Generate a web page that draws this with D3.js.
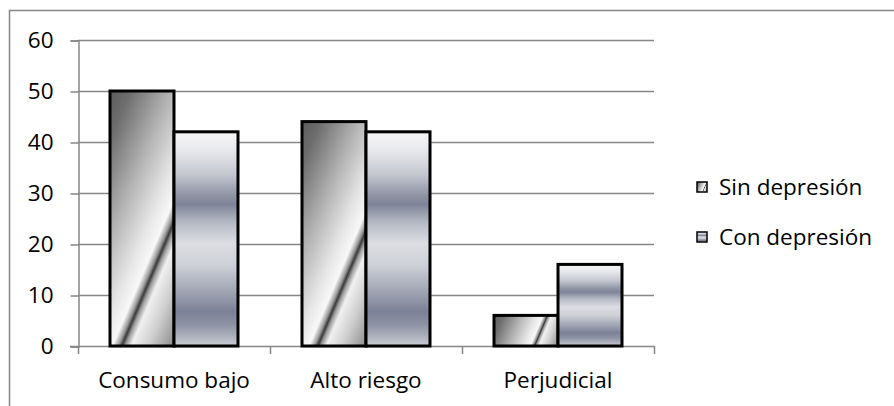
<!DOCTYPE html>
<html>
<head>
<meta charset="utf-8">
<script src="https://cdn.jsdelivr.net/npm/d3@7/dist/d3.min.js"></script>
<style>
  html, body { margin: 0; padding: 0; background: #fff; }
  svg { display: block; }
  text { font-family: "Open Sans", Lato, sans-serif; fill: #000; }
</style>
</head>
<body>
<svg id="chart" width="894" height="406"></svg>
<script>
// Categories, series and values
const categories = ["Consumo bajo", "Alto riesgo", "Perjudicial"];
const series = ["Sin depresión", "Con depresión"];
const sinDepresion = [50, 44, 6];
const conDepresion = [42, 42, 16];
const yTicks = [0, 10, 20, 30, 40, 50, 60];

const W = 894, H = 406;
const plot = { left: 78, right: 654, top: 40, bottom: 346 };
const fontSize = 22.5;
const fontFamily = "'Open Sans', Lato, sans-serif";

const svg = d3.select("#chart");
const defs = svg.append("defs");

// Outer chart frame
svg.append("rect")
  .attr("x", 9.5).attr("y", 10.5)
  .attr("width", W).attr("height", H)
  .attr("fill", "none").attr("stroke", "#868686").attr("stroke-width", 1.5);

const x0 = d3.scaleBand().domain(categories).range([plot.left, plot.right]).padding(0);
const x1 = d3.scaleBand().domain(series).range([0, x0.bandwidth()])
  .paddingInner(0).paddingOuter(0.5);
const y = d3.scaleLinear().domain([0, 60]).range([plot.bottom, plot.top]);

// Gridlines
svg.append("g").selectAll("line").data(yTicks.filter(d => d > 0)).join("line")
  .attr("x1", plot.left).attr("x2", plot.right)
  .attr("y1", d => y(d) + 0.5).attr("y2", d => y(d) + 0.5)
  .attr("stroke", "#868686").attr("stroke-width", 1.5);

// Y axis
const yAxis = d3.axisLeft(y).tickValues(yTicks).tickSize(8).tickPadding(17);
const gy = svg.append("g").attr("transform", `translate(${plot.left + 0.5},0.5)`).call(yAxis);
gy.select(".domain").attr("stroke", "#868686").attr("stroke-width", 1.5);
gy.selectAll(".tick line").attr("stroke", "#868686").attr("stroke-width", 1.5);
gy.selectAll(".tick text").attr("font-size", fontSize).attr("font-family", fontFamily).attr("fill", "#000");

// X axis: line plus tick marks on category boundaries
const gx = svg.append("g");
gx.append("line")
  .attr("x1", plot.left - 8).attr("x2", plot.right)
  .attr("y1", plot.bottom + 0.5).attr("y2", plot.bottom + 0.5)
  .attr("stroke", "#868686").attr("stroke-width", 1.5);
const bounds = categories.map(c => x0(c)).concat([x0(categories[categories.length - 1]) + x0.bandwidth()]);
gx.selectAll("line.tk").data(bounds).join("line").attr("class", "tk")
  .attr("x1", d => d + 0.5).attr("x2", d => d + 0.5)
  .attr("y1", plot.bottom).attr("y2", plot.bottom + 8)
  .attr("stroke", "#868686").attr("stroke-width", 1.5);
gx.selectAll("text").data(categories).join("text")
  .attr("x", d => x0(d) + x0.bandwidth() / 2)
  .attr("y", 380)
  .attr("dy", "0.35em")
  .attr("text-anchor", "middle")
  .attr("font-size", fontSize)
  .text(d => d);

// Gradient for "Sin depresión": diagonal chrome, fixed pixel angle per bar
function sinGradient(id, bx, by, bw, bh) {
  const dir = [1, 0.42];
  const n = Math.hypot(dir[0], dir[1]);
  const u = [dir[0] / n, dir[1] / n];
  const len = bw * u[0] + bh * u[1];
  const g = defs.append("linearGradient").attr("id", id)
    .attr("gradientUnits", "userSpaceOnUse")
    .attr("x1", bx).attr("y1", by)
    .attr("x2", bx + u[0] * len).attr("y2", by + u[1] * len);
  const stops = [
    [0, "#5c5c5c"], [0.12, "#6e6e6e"], [0.36, "#b4b4b4"], [0.55, "#e6e6e6"],
    [0.64, "#f8f8f8"], [0.675, "#9a9a9a"], [0.695, "#3a3a3a"], [0.715, "#9a9a9a"],
    [0.75, "#f0f0f0"], [0.85, "#cfcfcf"], [1, "#8c8c8c"]
  ];
  g.selectAll("stop").data(stops).join("stop")
    .attr("offset", d => d[0]).attr("stop-color", d => d[1]);
}

// Gradient for "Con depresión": horizontal metallic bands
const conStops = [
  [0, "#f6f6f7"], [0.08, "#e9eaed"], [0.2, "#c4c7cf"], [0.3, "#8d92a3"],
  [0.34, "#7f8598"], [0.42, "#b4b8c3"], [0.52, "#dcdde2"], [0.62, "#cfd1d8"],
  [0.74, "#a2a7b5"], [0.84, "#7c8296"], [0.9, "#8d92a3"], [1, "#c9ccd3"]
];
const cg = defs.append("linearGradient").attr("id", "gCon")
  .attr("x1", 0).attr("y1", 0).attr("x2", 0).attr("y2", 1);
cg.selectAll("stop").data(conStops).join("stop")
  .attr("offset", d => d[0]).attr("stop-color", d => d[1]);

const rows = categories.map((c, i) => ({ cat: c, vals: [sinDepresion[i], conDepresion[i]] }));

const bars = [];
rows.forEach((r, i) => {
  series.forEach((s, j) => {
    const bx = x0(r.cat) + x1(s);
    const by = y(r.vals[j]);
    const bw = x1.bandwidth();
    const bh = y(0) - by;
    let fill = "url(#gCon)";
    if (j === 0) {
      const id = "gSin" + i;
      sinGradient(id, bx, by, bw, bh);
      fill = `url(#${id})`;
    }
    bars.push({ bx, by, bw, bh, fill });
  });
});

svg.append("g").selectAll("rect").data(bars).join("rect")
  .attr("x", d => d.bx).attr("y", d => d.by)
  .attr("width", d => d.bw).attr("height", d => d.bh)
  .attr("fill", d => d.fill)
  .attr("stroke", "#000").attr("stroke-width", 3);

// Legend
const legendY = [187, 237];
const lg = svg.append("g");
series.forEach((s, j) => {
  const ly = legendY[j];
  let fill = "url(#gCon)";
  if (j === 0) {
    sinGradient("gSinLeg", 697, ly - 5, 10, 10);
    fill = "url(#gSinLeg)";
  }
  lg.append("rect").attr("x", 697).attr("y", ly - 5).attr("width", 10).attr("height", 10)
    .attr("fill", fill).attr("stroke", "#000").attr("stroke-width", 1.5);
  lg.append("text").attr("x", 719).attr("y", ly).attr("dy", "0.35em")
    .attr("font-size", fontSize).text(s);
});
</script>
</body>
</html>
